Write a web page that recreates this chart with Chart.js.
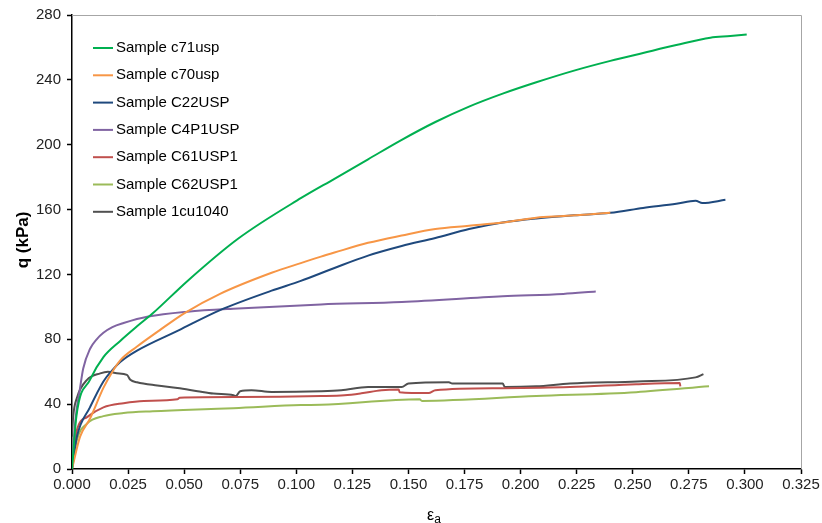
<!DOCTYPE html>
<html>
<head>
<meta charset="utf-8">
<script src="https://cdn.jsdelivr.net/npm/chart.js@4.4.0/dist/chart.umd.min.js"></script>
<style>
  html, body { margin: 0; padding: 0; background: #fff; }
  #wrap { width: 822px; height: 523px; }
</style>
</head>
<body>
<div id="wrap"><canvas id="chart" width="822" height="523"></canvas></div>
<script>
// axial strain (x) and deviator stress q in kPa (y)
const c71Strain = [0, 0.002, 0.008, 0.014, 0.0215, 0.029, 0.036, 0.0515, 0.074, 0.102, 0.117, 0.132, 0.147, 0.162, 0.177, 0.192, 0.207, 0.2246, 0.24, 0.2546, 0.2694, 0.2846, 0.2935, 0.3008];
const c71Q      = [0, 33, 55, 69, 79, 88, 96, 116, 142, 167, 179, 191, 203, 214, 223.5, 231.5, 238.5, 246, 251.7, 256.6, 261.5, 266, 267, 268];

const c70Strain = [0, 0.0036, 0.008, 0.014, 0.018, 0.0215, 0.029, 0.039, 0.050, 0.066, 0.089, 0.102, 0.111, 0.117, 0.132, 0.147, 0.162, 0.177, 0.192, 0.207, 0.219, 0.230, 0.240];
const c70Q      = [0, 20, 31, 50, 60, 67, 75.5, 85.5, 96, 108, 121, 127, 131, 133.5, 139.5, 144, 148, 150, 152, 155, 156, 157, 158];

const c22Strain = [0, 0.0022, 0.008, 0.014, 0.018, 0.0215, 0.029, 0.0475, 0.066, 0.089, 0.102, 0.117, 0.132, 0.147, 0.162, 0.177, 0.192, 0.207, 0.224, 0.24, 0.2546, 0.2694, 0.278, 0.281, 0.2913];
const c22Q      = [0, 20, 38, 54, 61, 66, 73, 85.5, 98, 110, 116, 124, 131.6, 137.5, 142.5, 148, 152, 154.5, 156.5, 158, 161, 163.6, 165.5, 164, 166];

const c4p1Strain = [0, 0.0015, 0.0036, 0.005, 0.008, 0.011, 0.014, 0.018, 0.023, 0.034, 0.0515, 0.074, 0.111, 0.147, 0.192, 0.219, 0.2335];
const c4p1Q      = [0, 30, 50, 62, 74, 80, 84, 87.5, 90, 94, 97, 99, 101.5, 103, 106.5, 108, 109.5];

const c61Strain = [0, 0.0022, 0.0067, 0.014, 0.023, 0.032, 0.047, 0.048, 0.074, 0.111, 0.1215, 0.129, 0.138, 0.1457, 0.146, 0.159, 0.162, 0.192, 0.222, 0.2515, 0.271, 0.2712];
const c61Q      = [0, 24, 32, 38, 40.6, 42, 43, 44, 44.4, 45, 45.5, 46.7, 48.6, 49, 47.4, 46.8, 48.6, 49.8, 50.5, 52.3, 53, 51];

const c62Strain = [0, 0.0022, 0.0067, 0.014, 0.023, 0.036, 0.059, 0.072, 0.102, 0.111, 0.155, 0.156, 0.207, 0.2515, 0.284];
const c62Q      = [0, 18, 28, 32.6, 34.5, 35.6, 36.9, 37.5, 39.4, 39.6, 43, 42, 45, 47.4, 51];

const cu1040Strain = [0, 0.0005, 0.0022, 0.0067, 0.0126, 0.016, 0.020, 0.0245, 0.026, 0.029, 0.038, 0.047, 0.056, 0.063, 0.072, 0.073, 0.075, 0.080, 0.089, 0.111, 0.120, 0.132, 0.147, 0.150, 0.168, 0.1695, 0.192, 0.193, 0.207, 0.222, 0.252, 0.278, 0.2815];
const cu1040Q      = [20, 32, 44, 55, 59, 60, 59, 58, 55, 53.5, 51.5, 50, 48, 46.5, 45.5, 45, 48, 48.6, 47.5, 48, 48.6, 50.5, 50.5, 52.7, 53.5, 52.7, 52.7, 50.5, 51, 52.7, 54, 56.5, 58.5];

const seriesNames = ["Sample c71usp", "Sample c70usp", "Sample C22USP", "Sample C4P1USP", "Sample C61USP1", "Sample C62USP1", "Sample 1cu1040"];
const seriesColors = ["#00b050", "#f79646", "#1f497d", "#8064a2", "#c0504d", "#9bbb59", "#505050"];
const seriesStrain = [c71Strain, c70Strain, c22Strain, c4p1Strain, c61Strain, c62Strain, cu1040Strain];
const seriesQ = [c71Q, c70Q, c22Q, c4p1Q, c61Q, c62Q, cu1040Q];

const FONT = '"Liberation Sans", Arial, sans-serif';

const datasets = seriesNames.map((name, i) => ({
    label: name,
    data: seriesStrain[i].map((x, k) => ({ x: x, y: seriesQ[i][k] })),
    borderColor: seriesColors[i],
    backgroundColor: seriesColors[i],
    borderWidth: 2,
    pointRadius: 0,
    showLine: true,
    cubicInterpolationMode: "monotone"
}));

// frame, legend and axis titles
const extras = {
    id: "extras",
    beforeDatasetsDraw(chart) {
        const { ctx, chartArea: a } = chart;
        ctx.save();
        ctx.strokeStyle = "#a6a6a6";
        ctx.lineWidth = 1;
        ctx.beginPath();
        ctx.moveTo(a.left, a.top + 0.5);
        ctx.lineTo(a.right + 0.5, a.top + 0.5);
        ctx.lineTo(a.right + 0.5, a.bottom);
        ctx.stroke();
        ctx.restore();
    },
    afterDraw(chart) {
        const ctx = chart.ctx;
        ctx.save();
        ctx.font = "15px " + FONT;
        ctx.textBaseline = "middle";
        chart.data.datasets.forEach((ds, i) => {
            const y = 48 + i * 27.3;
            ctx.strokeStyle = ds.borderColor;
            ctx.lineWidth = 2;
            ctx.beginPath();
            ctx.moveTo(93, y);
            ctx.lineTo(113, y);
            ctx.stroke();
            ctx.fillStyle = "#000";
            ctx.textAlign = "left";
            ctx.fillText(ds.label, 116, y);
        });

        // y title
        ctx.save();
        ctx.translate(23, 240);
        ctx.rotate(-Math.PI / 2);
        ctx.font = "bold 17px " + FONT;
        ctx.textAlign = "center";
        ctx.fillText("q (kPa)", 0, 0);
        ctx.restore();

        // x title with subscript
        ctx.font = "16px " + FONT;
        ctx.textAlign = "left";
        ctx.fillText("ε", 427, 516);
        const w = ctx.measureText("ε").width;
        ctx.font = "12px " + FONT;
        ctx.fillText("a", 427 + w, 520);
        ctx.restore();
    }
};

new Chart(document.getElementById("chart"), {
    type: "scatter",
    data: { datasets: datasets },
    options: {
        responsive: false,
        animation: false,
        layout: { padding: { left: 0, right: 21, top: 13, bottom: 0 } },
        plugins: {
            legend: { display: false },
            tooltip: { enabled: false }
        },
        scales: {
            x: {
                type: "linear",
                min: 0,
                max: 0.325,
                afterFit(scale) { scale.height = 54; },
                ticks: {
                    stepSize: 0.025,
                    color: "#222",
                    padding: 2,
                    maxRotation: 0,
                    font: { family: FONT, size: 15 },
                    callback: v => v.toFixed(3)
                },
                grid: { drawOnChartArea: false, tickLength: 5, color: "#000", tickWidth: 1.5 },
                border: { color: "#000", width: 1.5 }
            },
            y: {
                min: 0,
                max: 280,
                afterFit(scale) { scale.width = 72; },
                ticks: {
                    stepSize: 40,
                    color: "#222",
                    padding: 6,
                    font: { family: FONT, size: 15 }
                },
                grid: { drawOnChartArea: false, tickLength: 5, color: "#000", tickWidth: 1.5 },
                border: { color: "#000", width: 1.5 }
            }
        }
    },
    plugins: [extras]
});
</script>
</body>
</html>
